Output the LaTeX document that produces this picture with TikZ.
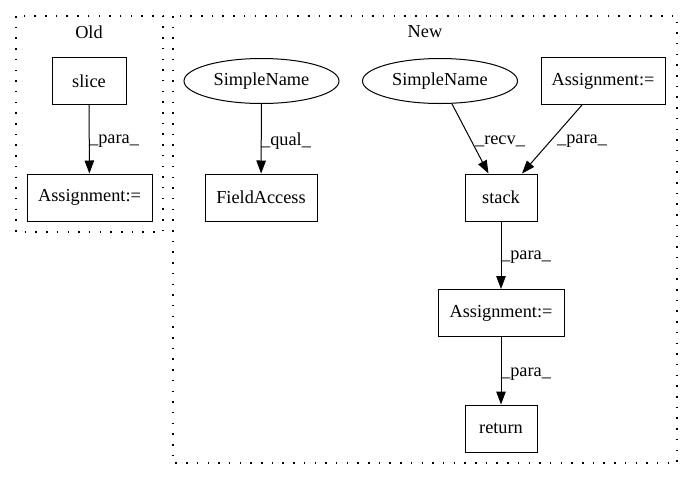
\documentclass[tikz,border=0pt]{standalone}
\usepackage{fontspec}
\setmainfont{Liberation Serif}
\usetikzlibrary{shapes.geometric,arrows.meta}

\begin{document}
\begin{tikzpicture}[x=1pt,y=-1pt,
    font=\fontsize{18.3}{22}\selectfont,
    box/.style={draw,line width=1pt,minimum height=47pt,inner sep=0pt},
    oval/.style={draw,ellipse,line width=1pt,minimum width=155pt,minimum height=45pt,inner sep=0pt},
    cluster/.style={line width=1.2pt,dash pattern=on 1.5pt off 9.2pt},
    edge/.style={line width=1pt,-{Triangle[length=13pt,width=9.5pt]}},
    lbl/.style={inner sep=0pt}]
    \useasboundingbox (0,0) rectangle (693,480);

    % clusters
    \draw [cluster] (16,16) rectangle (163,232);
    \draw [cluster] (173,16) rectangle (677,463);
    \node(old) at (89,32) {Old};
    \node(new) at (425,32) {New};

    % Old
    \node[box, minimum width=74pt](slice) at (89,81) {slice};
    \node[box, minimum width=125pt](oldassign) at (89.5,197.5) {Assignment:=};

    % New
    \node[oval](name1) at (261.5,81) {SimpleName};
    \node[box, minimum width=112pt](field) at (261,197.5) {FieldAccess};
    \node[oval](name2) at (440,81) {SimpleName};
    \node[box, minimum width=124pt](assign1) at (603,81) {Assignment:=};
    \node[box, minimum width=72pt](stack) at (501,197.5) {stack};
    \node[box, minimum width=126pt](assign2) at (501,313) {Assignment:=};
    \node[box, minimum width=72pt](ret) at (501,428.5) {return};

    \draw [edge] (slice) -- (oldassign);
    \draw [edge] (name1) -- (field);
    \draw [edge] (name2) -- (stack);
    \draw [edge] (assign1) -- (stack);
    \draw [edge] (stack) -- (assign2);
    \draw [edge] (assign2) -- (ret);

    \node[lbl](l1) at (114,141) {\_para\_};
    \node[lbl](l2) at (286,141) {\_qual\_};
    \node[lbl](l3) at (500,141) {\_recv\_};
    \node[lbl](l4) at (582,141) {\_para\_};
    \node[lbl](l5) at (526,257) {\_para\_};
    \node[lbl](l6) at (526,374) {\_para\_};
\end{tikzpicture}
\end{document}
